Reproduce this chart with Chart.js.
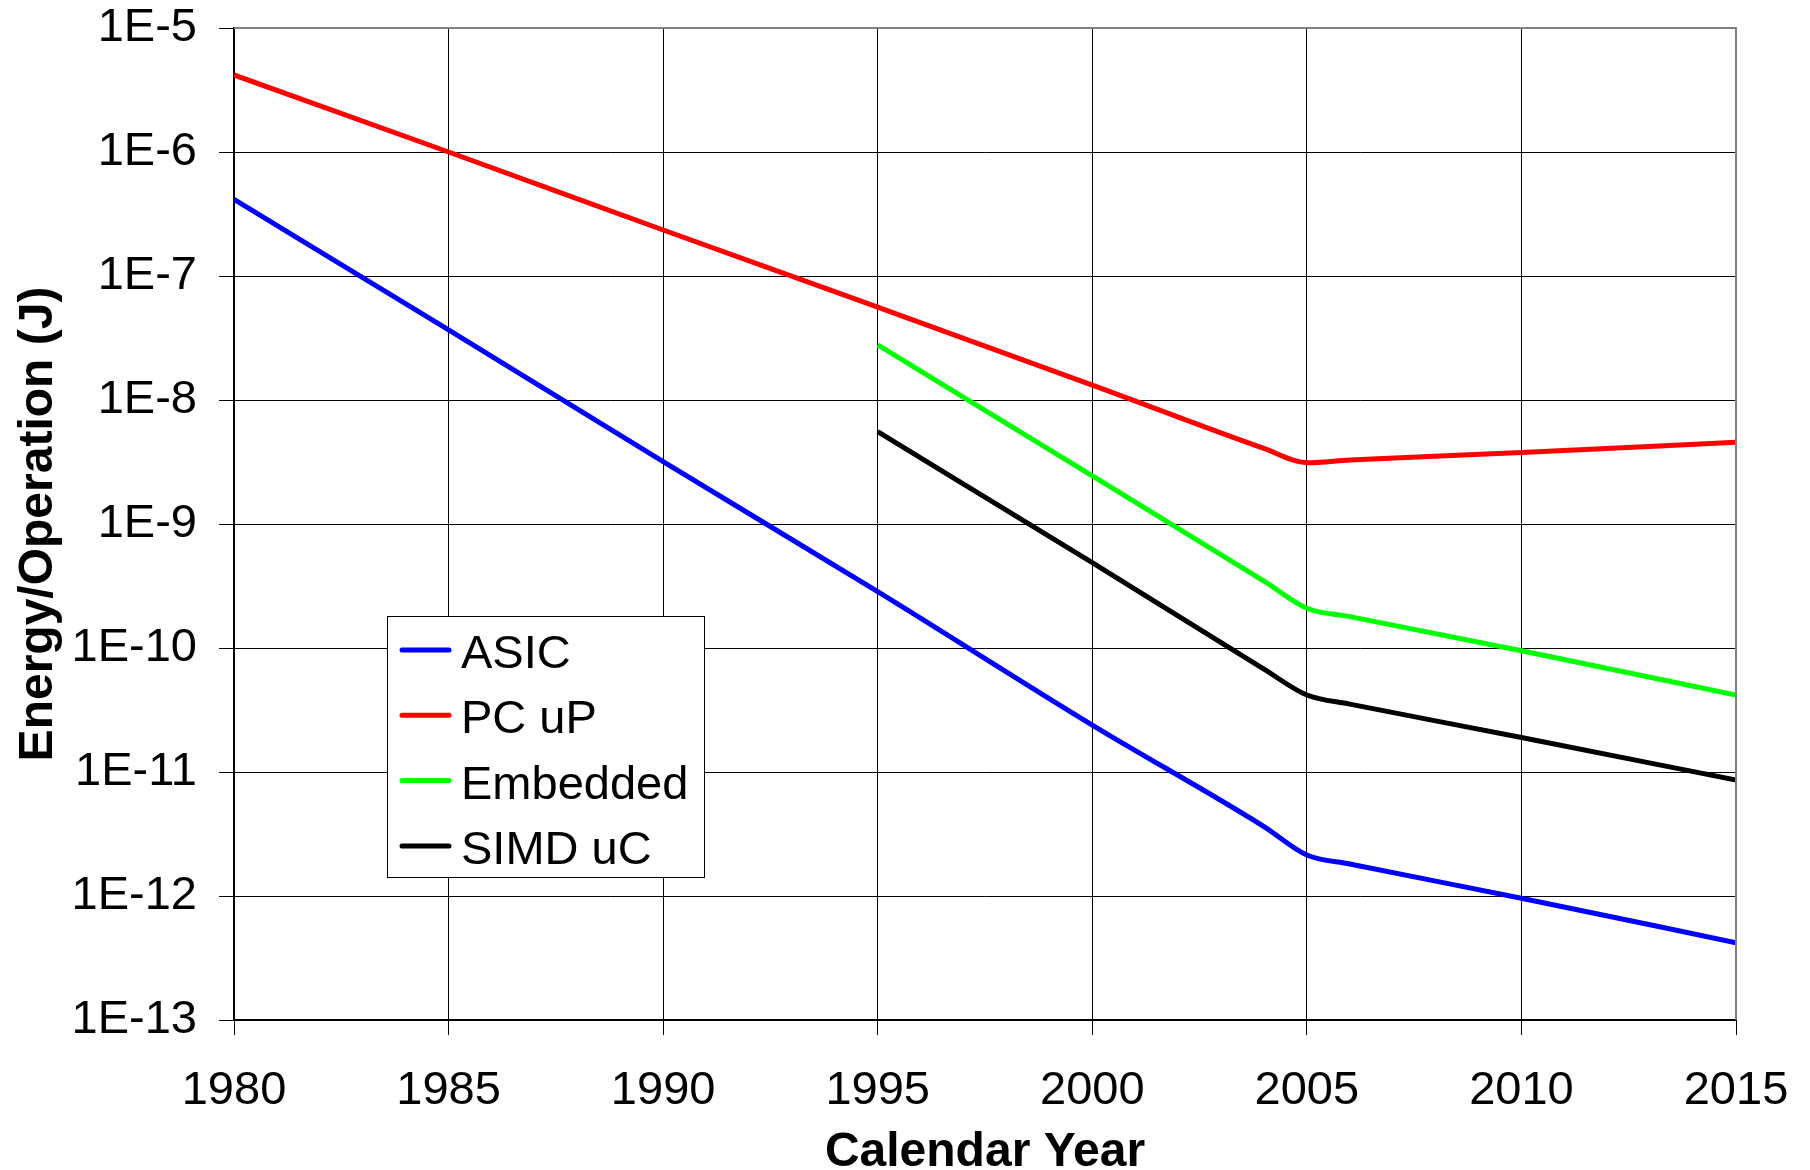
<!DOCTYPE html>
<html>
<head>
<meta charset="utf-8">
<script src="https://cdn.jsdelivr.net/npm/chart.js@4"></script>
<style>
  body { margin: 0; background: #fff; }
  #wrap { width: 1810px; height: 1170px; }
</style>
</head>
<body>
<div id="wrap"><canvas id="myChart"></canvas></div>
<script>
var FONT = '"Liberation Sans", Arial, sans-serif';

// years the curves are sampled at
var yearsAll = [1980, 1985, 1990, 1995, 2000, 2004, 2005, 2006, 2010, 2015];
var yearsLate = [1995, 2000, 2004, 2005, 2006, 2010, 2015];

// energy per operation, joules
var asic     = [4.15e-7, 3.67e-8, 3.18e-9, 2.85e-10, 2.39e-11, 3.63e-12, 2.14e-12, 1.81e-12, 9.6e-13, 4.2e-13];
var pcUp     = [4.18e-6, 1.0e-6, 2.35e-7, 5.6e-8, 1.32e-8, 4.07e-9, 3.12e-9, 3.28e-9, 3.78e-9, 4.56e-9];
var embedded = [2.78e-8, 2.44e-9, 3.46e-10, 2.09e-10, 1.79e-10, 9.5e-11, 4.18e-11];
var simdUc   = [5.55e-9, 4.88e-10, 6.76e-11, 4.18e-11, 3.53e-11, 1.9e-11, 8.6e-12];

var yTicks = [1e-13, 1e-12, 1e-11, 1e-10, 1e-9, 1e-8, 1e-7, 1e-6, 1e-5];
var yTickLabels = ['1E-13', '1E-12', '1E-11', '1E-10', '1E-9', '1E-8', '1E-7', '1E-6', '1E-5'];

function pts(xs, ys) {
  return xs.map(function (x, i) { return {x: x, y: ys[i]}; });
}

// boxed legend sitting inside the plot
var boxLegend = {
  id: 'boxLegend',
  afterDatasetsDraw: function (chart) {
    var ctx = chart.ctx;
    ctx.save();
    ctx.fillStyle = '#fff';
    ctx.fillRect(387, 616, 317, 261);
    ctx.strokeStyle = '#000';
    ctx.lineWidth = 1;
    ctx.strokeRect(387.5, 616.5, 317, 261);
    ctx.font = '47px ' + FONT;
    ctx.textBaseline = 'middle';
    chart.data.datasets.forEach(function (ds, i) {
      var y = 650 + i * 65.3;
      ctx.strokeStyle = ds.borderColor;
      ctx.lineWidth = 5;
      ctx.lineCap = 'round';
      ctx.beginPath();
      ctx.moveTo(402, y);
      ctx.lineTo(449, y);
      ctx.stroke();
      ctx.fillStyle = '#000';
      ctx.fillText(ds.label, 461, y + 5);
    });
    // grey frame on top and right of the plot area
    var a = chart.chartArea;
    ctx.strokeStyle = '#808080';
    ctx.lineWidth = 2;
    ctx.lineCap = 'butt';
    ctx.beginPath();
    ctx.moveTo(a.left, a.top);
    ctx.lineTo(a.right, a.top);
    ctx.lineTo(a.right, a.bottom);
    ctx.stroke();
    ctx.restore();
  }
};

var ctx = document.getElementById('myChart').getContext('2d');
var myChart = new Chart(ctx, {
  type: 'line',
  data: {
    datasets: [{
      label: 'ASIC',
      data: pts(yearsAll, asic),
      borderColor: '#0000ff'
    }, {
      label: 'PC uP',
      data: pts(yearsAll, pcUp),
      borderColor: '#ff0000'
    }, {
      label: 'Embedded',
      data: pts(yearsLate, embedded),
      borderColor: '#00ff00'
    }, {
      label: 'SIMD uC',
      data: pts(yearsLate, simdUc),
      borderColor: '#000000'
    }]
  },
  options: {
    responsive: true,
    maintainAspectRatio: false,
    animation: false,
    layout: { padding: { top: 28, right: 74, left: 0, bottom: 0 } },
    elements: {
      line: { borderWidth: 5, cubicInterpolationMode: 'monotone', fill: false },
      point: { radius: 0 }
    },
    plugins: {
      legend: { display: false },
      tooltip: { enabled: false }
    },
    scales: {
      x: {
        type: 'linear',
        min: 1980,
        max: 2015,
        afterFit: function (s) { s.height = 150; s.paddingLeft = 0; s.paddingRight = 0; },
        ticks: {
          stepSize: 5,
          color: '#000',
          padding: 33,
          font: { family: FONT, size: 47, lineHeight: 1 },
          maxRotation: 0,
          callback: function (v) { return String(v); }
        },
        grid: { color: '#000', lineWidth: 1, tickLength: 15 },
        border: { color: '#000', width: 2 },
        title: {
          display: true,
          text: 'Calendar Year',
          color: '#000',
          padding: { top: 0, bottom: -7 },
          font: { family: FONT, size: 48, weight: 'bold', lineHeight: 1 }
        }
      },
      y: {
        type: 'logarithmic',
        min: 1e-13,
        max: 1e-5,
        afterFit: function (s) { s.width = 234; s.paddingTop = 0; s.paddingBottom = 0; },
        afterBuildTicks: function (s) {
          s.ticks = yTicks.map(function (v) { return {value: v}; });
        },
        ticks: {
          color: '#000',
          padding: 22,
          font: { family: FONT, size: 47, lineHeight: 1 },
          callback: function (v, i) { return yTickLabels[i]; }
        },
        grid: { color: '#000', lineWidth: 1, tickLength: 15 },
        border: { color: '#000', width: 2 },
        title: {
          display: true,
          text: 'Energy/Operation (J)',
          color: '#000',
          padding: { top: 15, bottom: 0 },
          font: { family: FONT, size: 48, weight: 'bold', lineHeight: 1 }
        }
      }
    }
  },
  plugins: [boxLegend]
});
</script>
</body>
</html>
